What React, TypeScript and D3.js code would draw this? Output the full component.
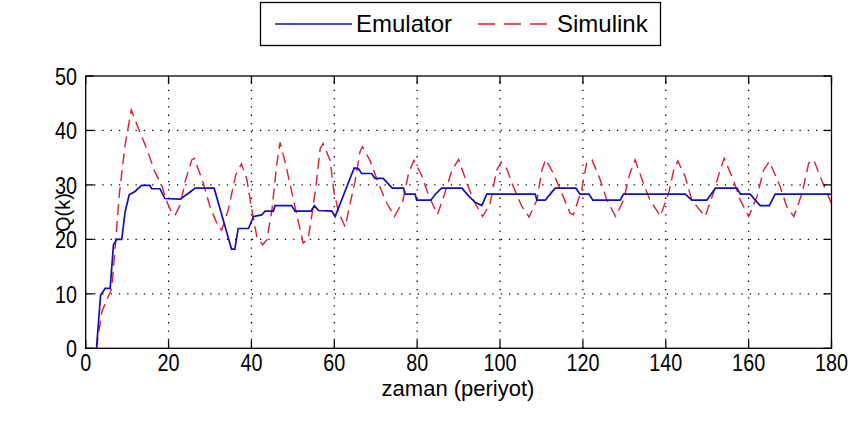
import React from "react";
import * as d3 from "d3";

const xTicks = [0, 20, 40, 60, 80, 100, 120, 140, 160, 180];
const yTicks = [0, 10, 20, 30, 40, 50];
const seriesNames = ["Emulator", "Simulink"];

const emulatorT = [2.6,3.6,4.7,5.9,6.7,7.5,8.7,9.5,10.5,11.9,13.5,15.5,15.9,17.9,19.1,22.8,25.2,26.4,31,35.2,36,36.8,39.3,40.5,42.5,43.3,45.3,45.7,49.7,50.5,54.4,55.2,56.2,59.4,60.2,64.8,65.8,66.6,69,69.8,71.8,74,76.7,77.1,79.5,79.9,83.3,84.3,85.9,90.8,92.4,94,95.6,96.8,108.5,108.9,110.9,112.3,113.3,118.3,119.3,121.5,122.4,129,129.8,144.7,146.3,149.9,152,157.2,158,160.4,161.6,162.8,165,166.4,180];
const emulatorV = [0,9.8,11,11,19,20,20,25,28.2,28.8,29.9,29.9,29.3,29.3,27.5,27.4,28.7,29.4,29.4,18.2,18.2,22,22,24.2,24.5,25.2,25.2,26.2,26.2,25.2,25.2,26.2,25.3,25.2,24.2,33.1,33,32.1,32.1,31.2,31.2,29.4,29.4,28.3,28.3,27.2,27.2,28.2,29.4,29.4,28,26.8,26.2,28.3,28.3,27.2,27.2,28.5,29.4,29.4,28.3,28.3,27.2,27.2,28.3,28.3,27.2,27.2,29.4,29.4,28.3,28.3,27.2,26.2,26.2,28.3,28.3];

const simulinkT = [2.6,3.9,5.1,6.3,7.1,8.1,9.5,11,12.7,14.7,16.7,18.3,19.6,20.8,21.6,22.8,24,25.6,26.2,28.4,30,32,32.8,34.4,36.2,37.6,38.9,40.1,41.3,42.7,43.7,44.9,46.1,46.9,48.1,49.7,51.3,52.5,53.7,54.6,55.6,56.6,57.3,59,59.9,61,62.6,63.8,65,66.2,66.8,68.6,70.5,72.5,74.5,76.5,77.9,79.2,81.1,82.8,84.9,86.7,88.4,90,92,94,95.8,97.6,99.2,100.3,101.6,103.2,105.3,107,108.9,110.1,111,112.9,114.9,116.9,117.7,119.7,120.9,122.2,124.2,125.8,127.9,129.8,131.3,132.6,134.6,136.2,138.7,140.7,141.9,142.9,144.7,146.3,149.5,151.5,153.1,154.1,156.3,158,160,162,163.6,165,167.6,169.2,170.9,172.9,174.5,175.7,177.3,178.9,180];
const simulinkV = [0,6.7,8.9,11,18.4,28.2,37.3,43.8,40.4,36.7,32.4,30,26.9,24.8,24.5,26.3,30.6,34.6,34.9,30.3,26,22.3,21.7,25.4,31.8,33.9,31,25.4,20.5,19,19.9,25.1,33.7,37.8,34.3,28.8,23.3,19.3,20.2,24.5,30,36.7,37.6,34.5,28.8,25.1,22.3,26.5,30.6,36.1,37,34.5,30.6,26.9,24.2,26.9,32.1,34.5,31.7,28,24.6,28.5,32.7,34.7,30.3,26.6,24.2,26.6,32.7,34.2,33,29.7,26,24.1,27.2,32.7,34.7,32.1,28.5,24.8,24.5,29.1,34,34.6,30.9,27.2,24.2,27.2,32,34.6,30.3,27.2,24.3,28.5,32.7,34.4,31.5,27.2,24.2,28.5,32.7,34.9,30.9,27.2,24.2,27.8,32.7,34.3,29.7,26,24.2,28.5,34,34.6,31.5,28.5,26.6];

const BLUE = "#1010b8";
const RED = "#d81e2c";
const FONT = "'Liberation Sans', Arial, sans-serif";

export default function App() {
  const x = d3.scaleLinear().domain([0, 180]).range([85.7, 831.5]);
  const y = d3.scaleLinear().domain([0, 50]).range([348.3, 76]);
  const [x0, x1] = x.range();
  const [y0, y1] = y.range();

  const line = d3
    .line<[number, number]>()
    .x((d) => x(d[0]))
    .y((d) => y(d[1]));

  const emu: [number, number][] = emulatorT.map((t, i) => [t, emulatorV[i]]);
  const sim: [number, number][] = simulinkT.map((t, i) => [t, simulinkV[i]]);
  const tickLen = 8;
  const sx = 0.9;
  const sy = 1.12;

  return (
    <svg
      width={858}
      height={427}
      style={{ position: "absolute", left: 0, top: 0, background: "#fff" }}
      fontFamily={FONT}
    >
      <rect x={0} y={0} width={858} height={427} fill="#fff" />
      {xTicks.slice(1, -1).map((t) => (
        <line key={"gx" + t} x1={x(t)} x2={x(t)} y1={y0} y2={y1} stroke="#000" strokeWidth={1.3} strokeDasharray="1.3,7" />
      ))}
      {yTicks.slice(1, -1).map((v) => (
        <line key={"gy" + v} x1={x0} x2={x1} y1={y(v)} y2={y(v)} stroke="#000" strokeWidth={1.3} strokeDasharray="1.3,7" />
      ))}
      <path d={line(sim) || ""} fill="none" stroke={RED} strokeWidth={1.4} strokeDasharray="11,6" />
      <path d={line(emu) || ""} fill="none" stroke={BLUE} strokeWidth={1.7} />
      <rect x={x0} y={y1} width={x1 - x0} height={y0 - y1} fill="none" stroke="#000" strokeWidth={1.3} />
      {xTicks.map((t) => (
        <g key={"tx" + t}>
          <line x1={x(t)} x2={x(t)} y1={y0} y2={y0 - tickLen} stroke="#000" strokeWidth={1.3} />
          <line x1={x(t)} x2={x(t)} y1={y1} y2={y1 + tickLen} stroke="#000" strokeWidth={1.3} />
          <text transform={`translate(${x(t)},370.5) scale(${sx},${sy})`} textAnchor="middle" fontSize={22} fill="#000">{t}</text>
        </g>
      ))}
      {yTicks.map((v) => (
        <g key={"ty" + v}>
          <line x1={x0} x2={x0 + tickLen} y1={y(v)} y2={y(v)} stroke="#000" strokeWidth={1.3} />
          <line x1={x1} x2={x1 - tickLen} y1={y(v)} y2={y(v)} stroke="#000" strokeWidth={1.3} />
          <text transform={`translate(77,${y(v) + 9}) scale(${sx},${sy})`} textAnchor="end" fontSize={22} fill="#000">{v}</text>
        </g>
      ))}
      <text x={458} y={396} textAnchor="middle" fontSize={22} fill="#000">zaman (periyot)</text>
      <text transform={`translate(70,212.5) rotate(-90)`} textAnchor="middle" fontSize={20} fill="#000">Q(k)</text>
      <rect x={260.5} y={2.5} width={400} height={43} fill="#fff" stroke="#000" strokeWidth={1.3} />
      <line x1={275} x2={352} y1={24} y2={24} stroke={BLUE} strokeWidth={1.7} />
      <text x={356} y={32} fontSize={24} fill="#000">{seriesNames[0]}</text>
      <line x1={478} x2={547} y1={24} y2={24} stroke={RED} strokeWidth={1.6} strokeDasharray="17,9" />
      <text x={557} y={32} fontSize={24} fill="#000">{seriesNames[1]}</text>
    </svg>
  );
}
